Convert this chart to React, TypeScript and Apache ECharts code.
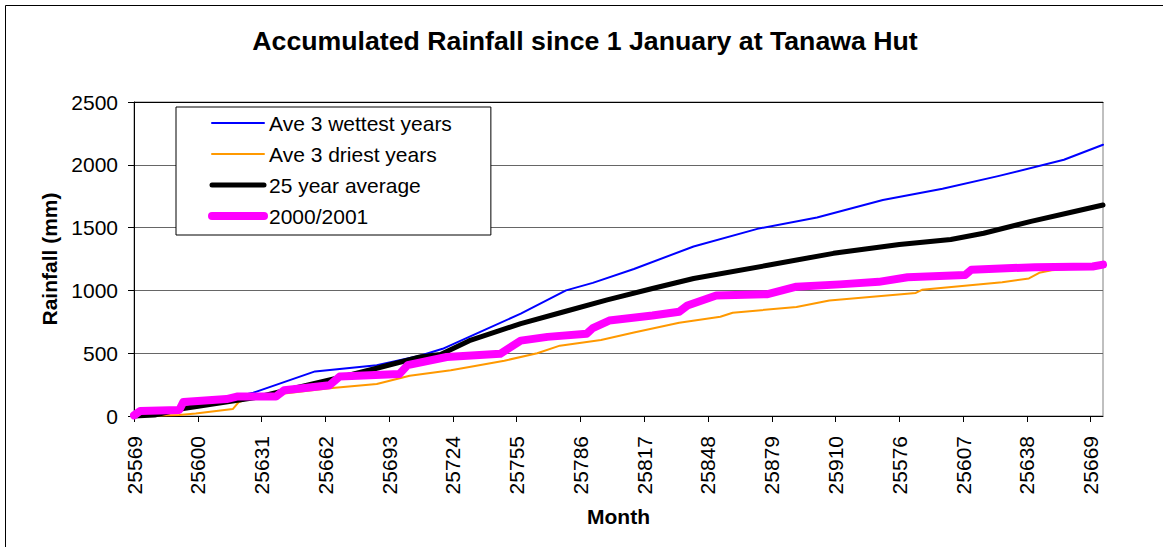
import React, { useEffect, useRef } from "react";
import * as echarts from "echarts";

// X tick labels (Excel date serials shown every 31 days)
const tickLabels = [
  "25569", "25600", "25631", "25662", "25693", "25724", "25755", "25786",
  "25817", "25848", "25879", "25910", "25576", "25607", "25638", "25669",
];
const tickStepDays = 31;
const lastDay = 471;

const seriesNames = ["Ave 3 wettest years", "Ave 3 driest years", "25 year average", "2000/2001"];

// [day index, accumulated rainfall mm]
const wettest: [number, number][] = [
  [0, 0], [10, 10], [24, 60], [40, 120], [58, 185], [88, 355], [118, 405], [139, 480],
  [150, 535], [171, 690], [188, 815], [210, 1000], [223, 1060], [243, 1170], [272, 1350],
  [303, 1490], [332, 1580], [364, 1720], [393, 1810], [420, 1910], [452, 2040], [471, 2160],
];
const driest: [number, number][] = [
  [0, 0], [22, 8], [30, 20], [48, 55], [51, 112], [58, 150], [71, 175], [95, 220],
  [118, 255], [134, 320], [154, 365], [163, 390], [180, 440], [196, 500], [207, 560],
  [227, 605], [243, 665], [265, 743], [285, 790], [291, 822], [322, 868], [338, 920],
  [380, 980], [383, 1005], [422, 1065], [435, 1095], [440, 1140], [446, 1160], [471, 1190],
];
const average25: [number, number][] = [
  [0, 0], [10, 8], [24, 60], [60, 150], [80, 230], [95, 287], [118, 380], [139, 470],
  [149, 490], [163, 600], [188, 735], [209, 830], [230, 925], [252, 1015], [272, 1095],
  [308, 1200], [340, 1295], [372, 1365], [397, 1405], [413, 1455], [436, 1550],
  [455, 1620], [471, 1680],
];
const year2000: [number, number][] = [
  [0, 5], [3, 40], [22, 48], [24, 112], [45, 135], [50, 155], [69, 155], [73, 205],
  [95, 245], [100, 315], [129, 335], [133, 405], [152, 470], [178, 495], [188, 600],
  [201, 630], [220, 655], [223, 700], [231, 760], [252, 800], [265, 830],
  [269, 880], [283, 960], [308, 970], [322, 1030], [343, 1048], [362, 1068], [376, 1105],
  [404, 1122], [407, 1165], [438, 1185], [466, 1190], [471, 1205],
];

const FONT = "'Liberation Sans', Arial, Helvetica, sans-serif";

export default function App() {
  const ref = useRef<HTMLDivElement>(null);
  useEffect(() => {
    if (!ref.current) return;
    const chart = echarts.init(ref.current, undefined, { renderer: "svg" });
    const tickValues = tickLabels.map((_, i) => i * tickStepDays);
    const mk = (name: string, data: [number, number][], color: string, width: number, z: number) => ({
      type: "line",
      name,
      data,
      symbol: "none",
      showSymbol: false,
      clip: false,
      z,
      itemStyle: { color },
      lineStyle: { color, width, cap: "round", join: "round" },
      emphasis: { disabled: true },
    });
    chart.setOption({
      animation: false,
      backgroundColor: "#fff",
      textStyle: { fontFamily: FONT },
      title: {
        text: "Accumulated Rainfall since 1 January at Tanawa Hut",
        left: 585,
        top: 27,
        padding: 0,
        textAlign: "center",
        textStyle: { fontSize: 26.7, fontWeight: "bold", color: "#000", fontFamily: FONT },
      },
      graphic: [
        {
          type: "rect",
          shape: { x: 5.5, y: 5.5, width: 1300, height: 700 },
          style: { fill: "none", stroke: "#000", lineWidth: 1 },
          silent: true,
          z: -10,
        },
      ],
      legend: {
        orient: "vertical",
        left: 176,
        top: 107,
        itemWidth: 52,
        itemHeight: 14,
        itemGap: 7,
        padding: [4, 39, 7, 32],
        backgroundColor: "#fff",
        borderColor: "#000",
        borderWidth: 1,
        selectedMode: false,
        itemStyle: { opacity: 0 },
        lineStyle: { width: "inherit", cap: "round" },
        data: seriesNames,
        textStyle: { fontSize: 21, color: "#000", fontFamily: FONT, lineHeight: 24 },
      },
      grid: {
        left: 134,
        top: 102,
        width: 969,
        height: 314,
        show: true,
        borderColor: "#808080",
        borderWidth: 1,
        backgroundColor: "transparent",
      },
      xAxis: [
        {
          type: "value",
          min: 0,
          max: lastDay,
          name: "Month",
          nameLocation: "middle",
          nameGap: 90,
          nameTextStyle: { fontSize: 21, fontWeight: "bold", color: "#000", fontFamily: FONT },
          axisLine: { show: true, onZero: false, lineStyle: { color: "#000", width: 1 } },
          axisTick: { show: true, length: 6, lineStyle: { color: "#000" }, customValues: tickValues },
          axisLabel: {
            rotate: 90,
            margin: 20,
            fontSize: 21,
            color: "#000",
            fontFamily: FONT,
            customValues: tickValues,
            formatter: (v: number) => tickLabels[Math.round(v / tickStepDays)] ?? "",
          },
          splitLine: { show: false },
        },
        {
          type: "value",
          position: "top",
          min: 0,
          max: lastDay,
          axisLine: { show: true, onZero: false, lineStyle: { color: "#000", width: 1 } },
          axisTick: { show: false },
          axisLabel: { show: false },
          splitLine: { show: false },
        },
      ],
      yAxis: {
        type: "value",
        min: 0,
        max: 2500,
        interval: 500,
        name: "Rainfall (mm)",
        nameLocation: "middle",
        nameGap: 73,
        nameTextStyle: { fontSize: 21, fontWeight: "bold", color: "#000", fontFamily: FONT },
        axisLine: { show: true, lineStyle: { color: "#000", width: 1 } },
        axisTick: { show: true, length: 6, lineStyle: { color: "#000" } },
        axisLabel: {
          margin: 16,
          fontSize: 21,
          color: "#000",
          fontFamily: FONT,
          formatter: (v: number) => String(v),
        },
        splitLine: { show: true, lineStyle: { color: "#666", width: 1 } },
      },
      series: [
        mk(seriesNames[0], wettest, "#0000FF", 2, 2),
        mk(seriesNames[1], driest, "#FF9900", 2, 3),
        mk(seriesNames[2], average25, "#000000", 5, 4),
        mk(seriesNames[3], year2000, "#FF00FF", 8, 5),
      ],
    });
    return () => chart.dispose();
  }, []);
  return (
    <div
      ref={ref}
      style={{ position: "absolute", left: 0, top: 0, width: 1163, height: 547, background: "#fff" }}
    />
  );
}
